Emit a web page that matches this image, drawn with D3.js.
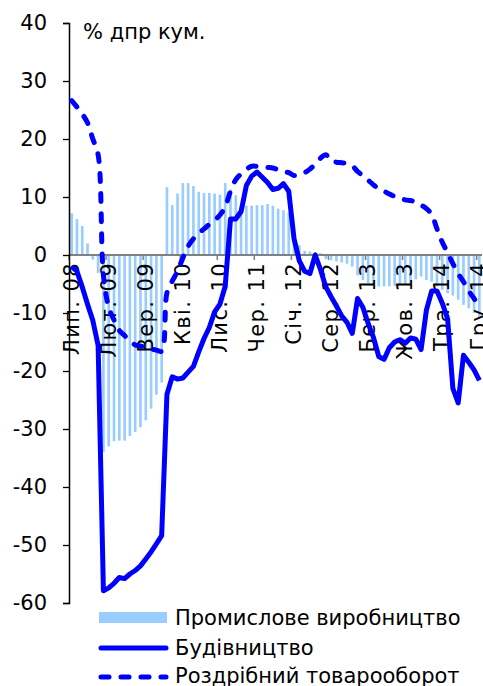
<!DOCTYPE html>
<html><head><meta charset="utf-8">
<script src="https://cdn.jsdelivr.net/npm/d3@7"></script>
<style>
body{margin:0;background:#fff;}
svg{display:block;font-family:"DejaVu Sans",Verdana,sans-serif;}
</style></head>
<body>
<script>
// ---- data ----
const monthAbbr = ["Січ.","Лют.","Бер.","Кві.","Тра.","Чер.","Лип.","Сер.","Вер.","Жов.","Лис.","Гру."];
const startYear = 2008, startMonth = 6, nMonths = 78; // Jul 2008 .. Dec 2014
const categories = d3.range(nMonths).map(i => {
  const m = (startMonth + i) % 12, y = startYear + Math.floor((startMonth + i) / 12);
  return monthAbbr[m] + " " + String(y).slice(2);
});
const labelEvery = 7;
const yTicks = [-60,-50,-40,-30,-20,-10,0,10,20,30,40];

const industry = [7.2,6.2,5.0,2.0,-0.8,-3.1,
  -34.0,-33.0,-32.1,-32.0,-32.0,-31.2,-30.5,-29.7,-28.5,-26.5,-24.1,-22.0,
  11.7,8.6,10.6,12.4,12.4,11.9,10.9,10.7,10.7,10.6,10.4,12.4,
  11.3,10.3,8.3,8.5,8.5,8.6,8.6,8.8,8.5,8.0,7.7,7.3,
  2.5,1.7,0.7,0.6,0.5,0.3,-0.7,-0.9,-1.1,-1.3,-1.5,-2.0,
  -3.5,-4.3,-4.9,-5.3,-5.4,-5.4,-5.4,-5.3,-5.2,-5.0,-4.8,-4.2,
  -3.7,-4.3,-4.6,-5.4,-6.0,-6.6,-7.0,-7.7,-8.6,-9.2,-10.0,-10.7];

const construction = [-2.0,-2.8,-5.5,-8.5,-11.3,-15.6,
  -57.9,-57.4,-56.6,-55.6,-55.8,-55.0,-54.4,-53.6,-52.4,-51.2,-49.8,-48.4,
  -24.0,-21.0,-21.4,-21.2,-20.2,-19.2,-16.7,-14.4,-12.5,-9.8,-8.5,-5.4,
  6.2,6.2,7.5,12.0,13.6,14.3,13.4,12.5,11.3,11.5,12.3,11.0,
  2.8,-1.0,-2.8,-3.2,0.0,-2.5,-5.5,-7.2,-8.8,-10.5,-11.6,-13.5,
  -7.5,-9.0,-11.8,-14.2,-17.5,-18.0,-16.0,-15.0,-14.6,-15.2,-14.3,-14.5,
  -16.3,-9.5,-6.2,-6.2,-8.3,-11.0,-23.0,-25.5,-17.3,-18.5,-19.8,-21.6];

const retail = [26.6,25.5,24.3,22.8,20.0,17.3,
  -3.5,-9.0,-11.2,-13.0,-13.9,-14.8,-15.5,-15.7,-16.0,-16.2,-16.4,-16.6,
  -6.5,-4.5,-2.8,-0.5,1.5,2.8,3.8,4.5,5.3,6.0,6.9,8.3,
  11.0,13.0,14.0,14.8,15.3,15.3,15.2,15.1,15.0,14.7,14.4,14.2,
  13.7,13.9,14.2,14.8,15.7,16.7,17.3,16.2,16.0,15.9,15.8,15.4,
  14.4,13.7,12.9,12.1,11.4,11.0,10.5,10.1,9.8,9.5,9.4,9.1,
  8.6,8.0,7.0,4.5,2.2,0.4,-1.5,-3.2,-4.6,-6.2,-7.5,-8.9];

const seriesNames = ["Промислове виробництво","Будівництво","Роздрібний товарооборот"];
const unitLabel = "% дпр кум.";

// ---- drawing ----
const W = 483, H = 686;
const barColor = "#99CCFF", lineColor = "#0000FF";
const svg = d3.select("body").append("svg").attr("width", W).attr("height", H);

const x = d3.scaleBand().domain(d3.range(nMonths)).range([69, 482]).padding(0);
const y = d3.scaleLinear().domain([-60, 40]).range([603, 23]);
const cx = i => x(i) + x.bandwidth() / 2;

// bars
const bw = x.bandwidth() * 0.5;
svg.append("g").selectAll("rect").data(industry).join("rect")
  .attr("x", (d, i) => cx(i) - bw / 2)
  .attr("width", bw)
  .attr("y", d => Math.min(y(d), y(0)))
  .attr("height", d => Math.abs(y(d) - y(0)))
  .attr("fill", barColor);

// x axis at zero
const xAxisG = svg.append("g").attr("transform", `translate(0,${y(0)})`);
xAxisG.append("line").attr("x1", 69).attr("x2", 482).attr("y1", 0).attr("y2", 0)
  .attr("stroke", "#808080").attr("stroke-width", 2);
const tickIdx = d3.range(0, nMonths, labelEvery);
xAxisG.selectAll("line.tk").data(tickIdx).join("line").attr("class", "tk")
  .attr("x1", i => x(i)).attr("x2", i => x(i)).attr("y1", 0).attr("y2", 5)
  .attr("stroke", "#808080").attr("stroke-width", 1.5);
xAxisG.selectAll("text").data(tickIdx).join("text")
  .attr("transform", i => `translate(${cx(i)},7) rotate(-90)`)
  .attr("text-anchor", "end").attr("dominant-baseline", "central")
  .attr("font-size", 21).attr("letter-spacing", 1.4).attr("fill", "#000")
  .text(i => categories[i]);

// y axis
const yAxis = d3.axisLeft(y).tickValues(yTicks).tickSize(6).tickPadding(16).tickFormat(d => String(d));
const yG = svg.append("g").attr("transform", "translate(69,0)").call(yAxis);
yG.select(".domain").attr("stroke", "#000").attr("stroke-width", 1.5);
yG.selectAll(".tick line").attr("stroke", "#000").attr("stroke-width", 1.3);
yG.selectAll(".tick text").attr("font-size", 21).attr("font-family", "DejaVu Sans").attr("fill", "#000");

// lines
const lineC = d3.line().x((d, i) => cx(i)).y(d => y(d)).curve(d3.curveLinear);
const lineR = d3.line().x((d, i) => cx(i)).y(d => y(d)).curve(d3.curveCatmullRom.alpha(0.5));
svg.append("path").datum(retail).attr("d", lineR).attr("fill", "none")
  .attr("stroke", lineColor).attr("stroke-width", 5).attr("stroke-dasharray", "8,12")
  .attr("stroke-linecap", "round");
svg.append("path").datum(construction).attr("d", lineC).attr("fill", "none")
  .attr("stroke", lineColor).attr("stroke-width", 5).attr("stroke-linejoin", "round");

// unit label
svg.append("text").attr("x", 83).attr("y", 39).attr("font-size", 21).attr("fill", "#000").text(unitLabel);

// legend
const lg = svg.append("g");
lg.append("rect").attr("x", 99).attr("y", 612).attr("width", 68).attr("height", 11).attr("fill", barColor);
lg.append("line").attr("x1", 101).attr("x2", 166).attr("y1", 648).attr("y2", 648)
  .attr("stroke", lineColor).attr("stroke-width", 5).attr("stroke-linecap", "round");
lg.append("line").attr("x1", 101).attr("x2", 166).attr("y1", 677).attr("y2", 677)
  .attr("stroke", lineColor).attr("stroke-width", 5).attr("stroke-dasharray", "8,12").attr("stroke-linecap", "round");
lg.selectAll("text").data(seriesNames).join("text")
  .attr("x", 175).attr("y", (d, i) => [618, 648, 676][i])
  .attr("dominant-baseline", "central").attr("font-size", 21).attr("fill", "#000")
  .text(d => d);
</script>
</body></html>
